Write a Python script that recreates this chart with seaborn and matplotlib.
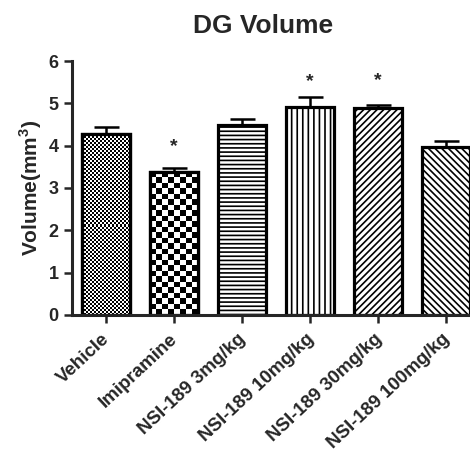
import numpy as np
import pandas as pd
import matplotlib
matplotlib.use("Agg")
import matplotlib.pyplot as plt
import matplotlib.transforms as mtransforms
import seaborn as sns

groups = ['Vehicle', 'Imipramine', 'NSI-189 3mg/kg', 'NSI-189 10mg/kg',
          'NSI-189 30mg/kg', 'NSI-189 100mg/kg']
volume = [4.27, 3.38, 4.49, 4.92, 4.90, 3.96]
sem = [0.16, 0.09, 0.14, 0.22, 0.06, 0.16]
signif = [False, True, False, True, True, False]
star_y = [None, 3.97, None, 5.52, 5.54, None]

sns.set_style('ticks')
plt.rcParams['font.family'] = ['Liberation Sans', 'DejaVu Sans']
plt.rcParams['font.weight'] = 'bold'
plt.rcParams['mathtext.fontset'] = 'custom'
plt.rcParams['mathtext.rm'] = 'Liberation Sans:bold'
plt.rcParams['mathtext.bf'] = 'Liberation Sans:bold'
plt.rcParams['hatch.linewidth'] = 1.2
plt.rcParams['hatch.color'] = 'black'

df = pd.DataFrame({'group': groups, 'volume': volume})

fig = plt.figure(figsize=(4.70, 4.59), dpi=100)
ax = fig.add_axes([0.153, 0.314, 0.847, 0.553])

sns.barplot(data=df, x='group', y='volume', order=groups, errorbar=None,
            color='white', edgecolor='black', linewidth=2.3, width=0.7,
            saturation=1, ax=ax)

bars = list(ax.patches)
hatches = [None, None, '----', '|||', '/////', '\\\\\\\\\\']
px_x = 68.0   # pixels per category unit
px_y = 42.3   # pixels per volume unit
for i, p in enumerate(bars):
    if hatches[i]:
        p.set_hatch(hatches[i])
    else:
        # checkerboard texture clipped to the bar
        cell = 2.0 if i == 0 else 5.6
        w, h = p.get_width(), p.get_height()
        nx = int(round(w * px_x / cell))
        ny = int(round(h * px_y / cell))
        board = (np.add.outer(np.arange(ny), np.arange(nx)) % 2).astype(float)
        im = ax.imshow(board, cmap='gray', interpolation='nearest',
                       extent=(p.get_x(), p.get_x() + w, 0, h),
                       aspect='auto', zorder=p.get_zorder() + 0.1)
        im.set_clip_path(p)
        edge = plt.Rectangle((p.get_x(), 0), w, h, fill=False,
                             edgecolor='black', linewidth=2.3,
                             zorder=p.get_zorder() + 0.2)
        ax.add_patch(edge)

centers = [p.get_x() + p.get_width() / 2 for p in bars]
ax.errorbar(centers, volume, yerr=[np.zeros(len(sem)), sem], fmt='none',
            ecolor='black', elinewidth=1.8, capsize=9, capthick=1.8, zorder=0.5)

for c, s, y in zip(centers, signif, star_y):
    if s:
        ax.text(c, y, '*', ha='center', va='center', fontsize=14,
                fontweight='bold')

ax.set_ylim(0, 6)
ax.set_xlim(-0.5, 5.35)
ax.set_yticks(range(0, 7))
ax.set_xlabel('')
ax.set_ylabel(r'Volume(mm$^{\mathbf{3}}$)', fontsize=15, fontweight='bold',
              labelpad=3)
ax.set_title('DG Volume', fontsize=19, fontweight='bold', pad=20, x=0.48)
ax.tick_params(axis='both', width=1.8, length=6, labelsize=13)

# rotated category labels, nudged down to sit like the original
shift = mtransforms.ScaledTranslation(1 / 72, -6 / 72, fig.dpi_scale_trans)
for lab in ax.get_xticklabels():
    lab.set_rotation(43)
    lab.set_ha('right')
    lab.set_va('center')
    lab.set_rotation_mode('anchor')
    lab.set_fontsize(13.5)
    lab.set_fontweight('bold')
    lab.set_transform(lab.get_transform() + shift)
plt.setp(ax.get_yticklabels(), fontweight='bold')
for s in ['left', 'bottom']:
    ax.spines[s].set_linewidth(2.2)
sns.despine(ax=ax)

fig.savefig('out.png', dpi=100)
